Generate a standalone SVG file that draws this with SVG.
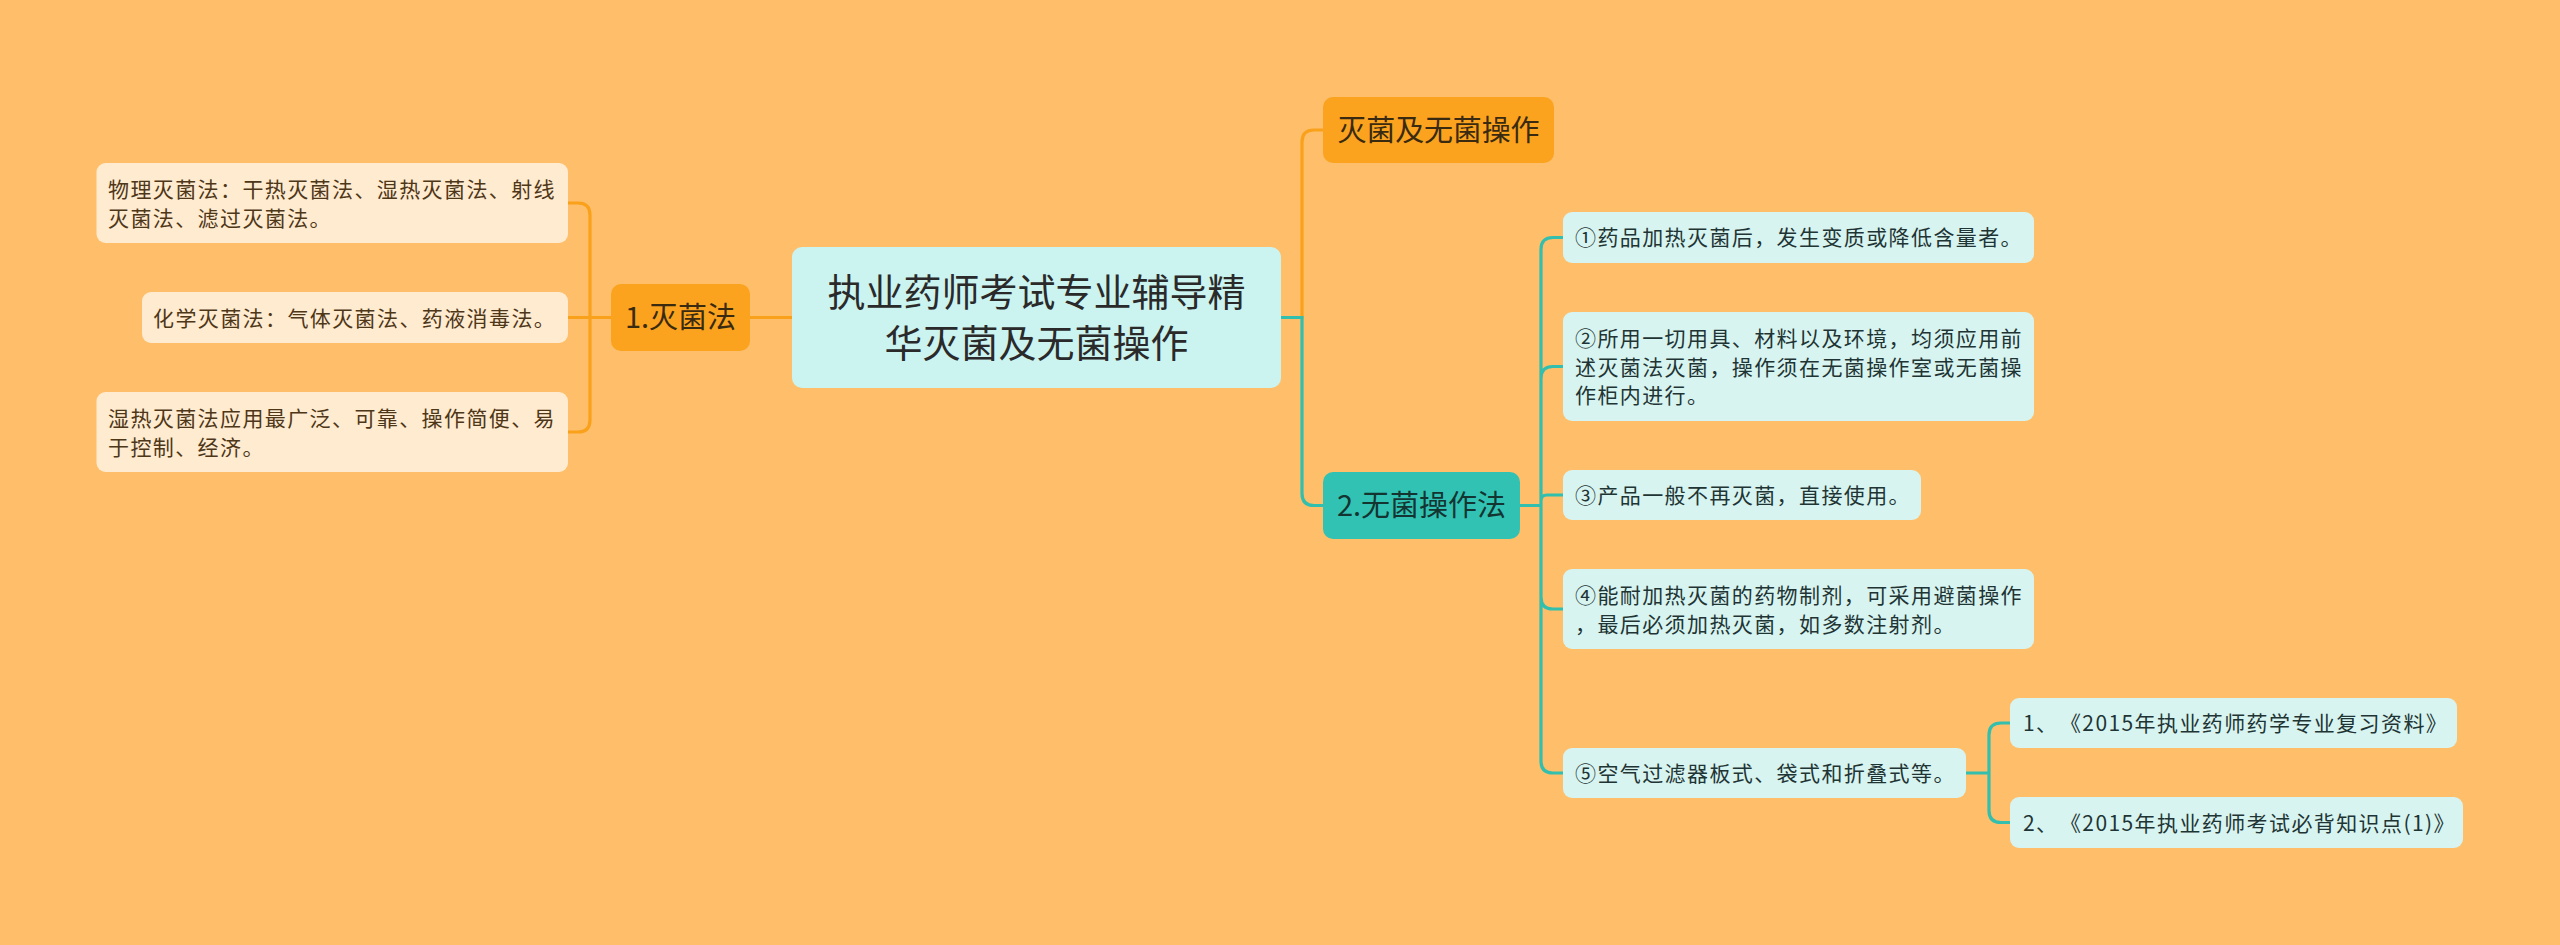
<svg xmlns="http://www.w3.org/2000/svg" width="2560" height="945" viewBox="0 0 2560 945">
<style>
text{font-family:"Noto Sans CJK SC","Noto Sans",sans-serif}
.bg{fill:#FFBE69}
.lc{stroke:#F9A11B;stroke-width:3.2;fill:none}
.tc{stroke:#33BFAE;stroke-width:3.2;fill:none}
.leafL{fill:#FFEBCF}
.leafR{fill:#D7F4F1}
.orange{fill:#FBA31F}
.teal{fill:#31C2B3}
.center{fill:#CBF3F0}
.tL{font-size:21px;letter-spacing:1.4px;fill:#4E3618}
.tR{font-size:21px;letter-spacing:1.4px;fill:#1F3434}
.t1{font-size:29px;fill:#3A2A10;text-anchor:middle}
.t2{font-size:29px;fill:#143432;text-anchor:middle}
.tc0{font-size:38px;fill:#2A2A2A;text-anchor:middle}
</style>
<rect class="bg" x="0" y="0" width="2560" height="945"/>
<g id="connectors">
<path class="lc" d="M792,317.5 H750"/>
<path class="lc" d="M611,317.5 H590 M590,317.5 V215 Q590,203 578,203 H568 M590,317.5 V420 Q590,432 578,432 H568 M590,317.5 H568"/>
<path class="lc" d="M1281,317.5 H1302 V142 Q1302,130 1314,130 H1323"/>
<path class="tc" d="M1281,317.5 H1302 V493.5 Q1302,505.5 1314,505.5 H1323"/>
<path class="tc" d="M1520,505.5 H1541 M1541,505.5 V249.5 Q1541,237.5 1553,237.5 H1563 M1541,505.5 V378.5 Q1541,366.5 1553,366.5 H1563 M1541,505.5 V501 Q1541,495 1547,495 H1563 M1541,505.5 V597 Q1541,609 1553,609 H1563 M1541,505.5 V761 Q1541,773 1553,773 H1563"/>
<path class="tc" d="M1966,773 H1989 M1989,773 V735 Q1989,723 2001,723 H2010 M1989,773 V810.5 Q1989,822.5 2001,822.5 H2010"/>
</g>
<g id="root">
<rect class="center" x="792" y="247" width="489" height="141" rx="10"/>
<text class="tc0" x="1036.5" y="306">执业药师考试专业辅导精</text>
<text class="tc0" x="1036.5" y="357">华灭菌及无菌操作</text>
</g>
<g id="n-miejun">
<rect class="orange" x="611" y="284" width="139" height="67" rx="10"/>
<text class="t1" x="680.5" y="328">1.灭菌法</text>
</g>
<g id="n-wuli">
<rect class="leafL" x="96.5" y="163" width="471.5" height="80" rx="9"/>
<text class="tL" x="108" y="197">物理灭菌法：干热灭菌法、湿热灭菌法、射线</text>
<text class="tL" x="108" y="226">灭菌法、滤过灭菌法。</text>
</g>
<g id="n-huaxue">
<rect class="leafL" x="142" y="292" width="426" height="51" rx="9"/>
<text class="tL" x="153" y="326">化学灭菌法：气体灭菌法、药液消毒法。</text>
</g>
<g id="n-shire">
<rect class="leafL" x="96.5" y="392" width="471.5" height="80" rx="9"/>
<text class="tL" x="108" y="426">湿热灭菌法应用最广泛、可靠、操作简便、易</text>
<text class="tL" x="108" y="455">于控制、经济。</text>
</g>
<g id="n-title">
<rect class="orange" x="1323" y="97" width="231" height="66" rx="10"/>
<text class="t1" x="1438.5" y="141" textLength="202" lengthAdjust="spacing">灭菌及无菌操作</text>
</g>
<g id="n-wujun">
<rect class="teal" x="1323" y="472" width="197" height="67" rx="10"/>
<text class="t2" x="1421.5" y="516">2.无菌操作法</text>
</g>
<g id="n-1">
<rect class="leafR" x="1563" y="212" width="471" height="51" rx="9"/>
<text class="tR" x="1575" y="245">①药品加热灭菌后，发生变质或降低含量者。</text>
</g>
<g id="n-2">
<rect class="leafR" x="1563" y="312" width="471" height="109" rx="9"/>
<text class="tR" x="1575" y="346">②所用一切用具、材料以及环境，均须应用前</text>
<text class="tR" x="1575" y="374.5">述灭菌法灭菌，操作须在无菌操作室或无菌操</text>
<text class="tR" x="1575" y="403">作柜内进行。</text>
</g>
<g id="n-3">
<rect class="leafR" x="1563" y="470" width="358" height="50" rx="9"/>
<text class="tR" x="1575" y="503">③产品一般不再灭菌，直接使用。</text>
</g>
<g id="n-4">
<rect class="leafR" x="1563" y="569" width="471" height="80" rx="9"/>
<text class="tR" x="1575" y="603">④能耐加热灭菌的药物制剂，可采用避菌操作</text>
<text class="tR" x="1575" y="632">，最后必须加热灭菌，如多数注射剂。</text>
</g>
<g id="n-5">
<rect class="leafR" x="1563" y="748" width="403" height="50" rx="9"/>
<text class="tR" x="1575" y="781">⑤空气过滤器板式、袋式和折叠式等。</text>
</g>
<g id="n-ref1">
<rect class="leafR" x="2010" y="698" width="447" height="50" rx="9"/>
<text class="tR" x="2023" y="731">1、<tspan dx="12">《2015年执业药师药学专业复习资料》</tspan></text>
</g>
<g id="n-ref2">
<rect class="leafR" x="2010" y="797" width="453" height="51" rx="9"/>
<text class="tR" x="2023" y="830.5">2、<tspan dx="12">《2015年执业药师考试必背知识点(1)》</tspan></text>
</g>
</svg>
